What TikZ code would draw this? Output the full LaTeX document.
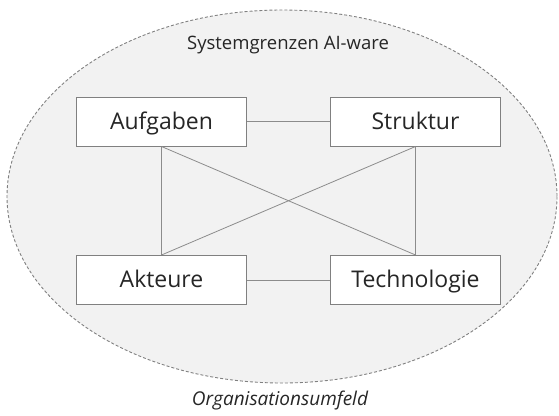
\documentclass[tikz,border=0pt]{standalone}
\usepackage{fontspec}
\setmainfont{Open Sans}
\begin{document}
\begin{tikzpicture}[x=1pt,y=-1pt,
  boxnode/.style={draw=black!50,line width=1pt,fill=white,minimum width=170pt,minimum height=49pt,inner sep=0pt,text height=18pt,text depth=3pt,font=\fontsize{23}{26}\selectfont,text=black!85},
  link/.style={draw=black!45,line width=0.8pt},
  bound/.style={draw=black!50,dashed,dash pattern=on 3pt off 2pt,line width=0.9pt,fill=black!5}]
\useasboundingbox (0,0) rectangle (559,415);
\path[bound] (282,196.5) ellipse [x radius=275, y radius=186.5];
\node[font=\fontsize{18.5}{21}\selectfont,text=black!85] (title) at (288,45) {Systemgrenzen AI-ware};
\node[boxnode] (auf) at (161.5,121.5) {Aufgaben};
\node[boxnode] (str) at (415.5,121.5) {Struktur};
\node[boxnode] (akt) at (161.5,280) {Akteure};
\node[boxnode] (tec) at (415.5,280) {Technologie};
\draw[link] (auf) -- (str);
\draw[link] (akt) -- (tec);
\draw[link] (auf.south) -- (akt.north);
\draw[link] (str.south) -- (tec.north);
\draw[link] (auf.south) -- (tec.north);
\draw[link] (str.south) -- (akt.north);
\node[font=\fontsize{19}{22}\selectfont\itshape,text=black!85] (env) at (280,401) {Organisationsumfeld};
\end{tikzpicture}
\end{document}
